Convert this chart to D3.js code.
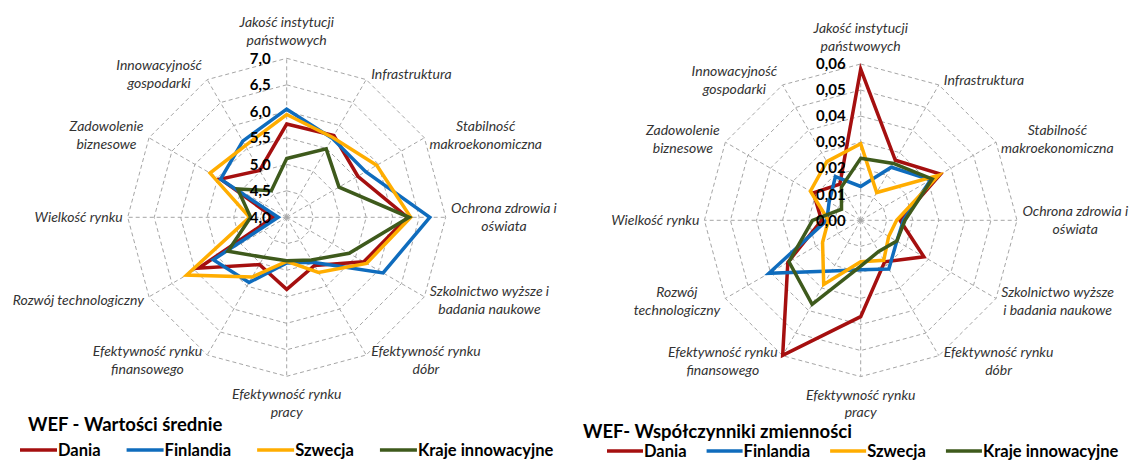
<!DOCTYPE html>
<html>
<head>
<meta charset="utf-8">
<script src="https://cdn.jsdelivr.net/npm/d3@7"></script>
<style>
  body { margin: 0; background: #fff; }
  svg text { font-family: Lato, "Open Sans", sans-serif; }
</style>
</head>
<body>
<svg id="chart" width="1138" height="461"></svg>
<script>
// kategorie (12 osi, od góry zgodnie z ruchem wskazówek)
const categories = ["Jakość instytucji państwowych", "Infrastruktura", "Stabilność makroekonomiczna",
  "Ochrona zdrowia i oświata", "Szkolnictwo wyższe i badania naukowe", "Efektywność rynku dóbr",
  "Efektywność rynku pracy", "Efektywność rynku finansowego", "Rozwój technologiczny",
  "Wielkość rynku", "Zadowolenie biznesowe", "Innowacyjność gospodarki"];

// podział etykiet na linie (lewy / prawy wykres)
const labelsLeft = [["Jakość instytucji", "państwowych"], ["Infrastruktura"], ["Stabilność", "makroekonomiczna"],
  ["Ochrona zdrowia i", "oświata"], ["Szkolnictwo wyższe i", "badania naukowe"], ["Efektywność rynku", "dóbr"],
  ["Efektywność rynku", "pracy"], ["Efektywność rynku", "finansowego"], ["Rozwój technologiczny"],
  ["Wielkość rynku"], ["Zadowolenie", "biznesowe"], ["Innowacyjność", "gospodarki"]];
const labelsRight = [["Jakość instytucji", "państwowych"], ["Infrastruktura"], ["Stabilność", "makroekonomiczna"],
  ["Ochrona zdrowia i", "oświata"], ["Szkolnictwo wyższe", "i badania naukowe"], ["Efektywność rynku", "dóbr"],
  ["Efektywność rynku", "pracy"], ["Efektywność rynku", "finansowego"], ["Rozwój", "technologiczny"],
  ["Wielkość rynku"], ["Zadowolenie", "biznesowe"], ["Innowacyjność", "gospodarki"]];

const seriesNames = ["Dania", "Finlandia", "Szwecja", "Kraje innowacyjne"];
const seriesColors = ["#a50f0f", "#0f6cbd", "#ffad00", "#3e5a1c"];

// WEF - wartości średnie
const meanDania     = [5.76, 5.78, 5.55, 6.28, 5.68, 5.05, 5.36, 5.03, 5.92, 4.25, 5.44, 5.02];
const meanFinlandia = [6.04, 5.72, 5.72, 6.70, 6.10, 4.98, 4.86, 5.42, 5.60, 4.16, 5.44, 5.66];
const meanSzwecja   = [5.94, 5.74, 5.96, 6.34, 5.74, 5.20, 4.83, 5.30, 6.18, 4.70, 5.67, 5.56];
const meanKraje     = [5.11, 5.49, 5.14, 6.31, 5.36, 4.93, 4.82, 4.87, 5.28, 4.68, 5.07, 4.58];
const meanTicks     = [4.0, 4.5, 5.0, 5.5, 6.0, 6.5, 7.0];

// WEF - współczynniki zmienności
const cvDania     = [0.058, 0.0266, 0.0354, 0.0151, 0.028, 0.0184, 0.037, 0.0599, 0.0323, 0.015, 0.021, 0.016];
const cvFinlandia = [0.013, 0.0235, 0.031, 0.0164, 0.016, 0.0216, 0.019, 0.0225, 0.0407, 0.013, 0.014, 0.0194];
const cvSzwecja   = [0.0294, 0.0123, 0.0345, 0.0138, 0.0124, 0.0177, 0.0159, 0.0284, 0.0169, 0.0124, 0.0223, 0.026];
const cvKraje     = [0.0238, 0.0252, 0.0317, 0.017, 0.016, 0.0138, 0.0176, 0.0373, 0.0318, 0.0185, 0.0085, 0.0148];
const cvTicks     = [0, 0.01, 0.02, 0.03, 0.04, 0.05, 0.06];

const titleLeft = "WEF - Wartości średnie";
const titleRight = "WEF- Współczynniki zmienności";

const plLocale = d3.formatLocale({decimal: ",", thousands: " ", grouping: [3], currency: ["", " zł"]});

const svg = d3.select("#chart");

function radar(opts) {
  const g = svg.append("g").attr("transform", `translate(${opts.cx},${opts.cy})`);
  const n = categories.length;
  const angle = d3.scaleLinear().domain([0, n]).range([0, 2 * Math.PI]);
  const r = d3.scaleLinear().domain(opts.domain).range([0, opts.R]);
  const fmt = plLocale.format(opts.fmt);

  // siatka - wielokąty
  const ring = d3.lineRadial()
    .angle((d, i) => angle(i))
    .radius(d => d)
    .curve(d3.curveLinearClosed);
  g.selectAll(".ring")
    .data(opts.ticks.slice(1))
    .join("path")
    .attr("d", t => ring(categories.map(() => r(t))))
    .attr("fill", "none")
    .attr("stroke", "#a6a6a6")
    .attr("stroke-width", 1)
    .attr("stroke-dasharray", "4,3");

  // osie
  g.selectAll(".spoke")
    .data(categories)
    .join("line")
    .attr("x1", 0).attr("y1", 0)
    .attr("x2", (d, i) => opts.R * Math.sin(angle(i)))
    .attr("y2", (d, i) => -opts.R * Math.cos(angle(i)))
    .attr("stroke", "#a6a6a6")
    .attr("stroke-width", 1)
    .attr("stroke-dasharray", "4,3");

  // serie
  const line = d3.lineRadial()
    .angle((d, i) => angle(i))
    .radius(d => r(d))
    .curve(d3.curveLinearClosed);
  g.selectAll(".serie")
    .data(opts.series)
    .join("path")
    .attr("d", d => line(d))
    .attr("fill", "none")
    .attr("stroke", (d, i) => seriesColors[i])
    .attr("stroke-width", 3.5)
    .attr("stroke-linejoin", "miter");

  // etykiety kategorii
  opts.labels.forEach((lines, i) => {
    const a = angle(i);
    const s = Math.sin(a), c = Math.cos(a);
    const vx = opts.R * s, vy = -opts.R * c;
    const lh = 18;
    const t = g.append("text")
      .attr("font-size", 14)
      .attr("font-style", "italic")
      .attr("fill", "#333")
      .attr("text-anchor", "middle");
    lines.forEach((ln, k) => {
      t.append("tspan").attr("x", 0).attr("y", k * lh).attr("dy", "0.35em").text(ln);
    });
    const w = t.node().getBBox().width;
    const h = (lines.length - 1) * lh;
    let x, y;
    if (Math.abs(s) < 0.01) {
      x = vx;
      y = c > 0 ? vy - 18 - h : vy + 18;
    } else {
      x = vx + Math.sign(s) * (5 + w / 2);
      y = vy - 6 * c - h / 2;
    }
    t.attr("transform", `translate(${x},${y})`);
  });

  // etykiety osi wartości
  g.selectAll(".tick")
    .data(opts.ticks)
    .join("text")
    .attr("x", -opts.tickGap)
    .attr("y", d => -r(d))
    .attr("dy", "0.35em")
    .attr("text-anchor", "end")
    .attr("font-size", 15)
    .attr("font-weight", "bold")
    .attr("fill", "#000")
    .text(d => fmt(d));

  // tytuł
  svg.append("text")
    .attr("x", opts.titleX).attr("y", opts.titleY)
    .attr("dy", "0.35em")
    .attr("font-size", 18.5)
    .attr("font-weight", "bold")
    .attr("fill", "#000")
    .text(opts.title);

  // legenda
  let lx = opts.legendX;
  seriesNames.forEach((name, i) => {
    svg.append("line")
      .attr("x1", lx).attr("x2", lx + opts.legendLine)
      .attr("y1", opts.legendY).attr("y2", opts.legendY)
      .attr("stroke", seriesColors[i]).attr("stroke-width", 3.5);
    const t = svg.append("text")
      .attr("x", lx + opts.legendLine + 1).attr("y", opts.legendY)
      .attr("dy", "0.35em")
      .attr("font-size", 16.5)
      .attr("font-weight", "bold")
      .attr("fill", "#000")
      .text(name);
    lx += opts.legendLine + 1 + t.node().getComputedTextLength() + opts.legendGap;
  });
}

radar({
  cx: 286.7, cy: 217.3, R: 159,
  domain: [4, 7], ticks: meanTicks, fmt: ".1f", tickGap: 16,
  series: [meanDania, meanFinlandia, meanSzwecja, meanKraje],
  labels: labelsLeft,
  title: titleLeft, titleX: 28, titleY: 425,
  legendX: 20, legendY: 450, legendLine: 37, legendGap: 26
});

radar({
  cx: 860.7, cy: 220.3, R: 156.3,
  domain: [0, 0.06], ticks: cvTicks, fmt: ".2f", tickGap: 15,
  series: [cvDania, cvFinlandia, cvSzwecja, cvKraje],
  labels: labelsRight,
  title: titleRight, titleX: 583, titleY: 432,
  legendX: 607, legendY: 451, legendLine: 36, legendGap: 20
});
</script>
</body>
</html>
